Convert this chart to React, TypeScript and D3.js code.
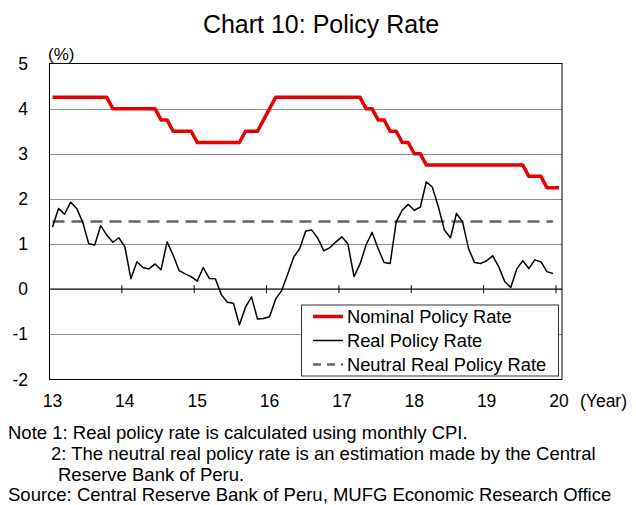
import React from 'react';
import * as d3 from 'd3';

// monthly, Jan 2013 .. Jan 2020 (nominal) / Dec 2019 (real)
const nominalRate: number[] = [
  4.25, 4.25, 4.25, 4.25, 4.25, 4.25, 4.25, 4.25, 4.25, 4.25, 4.0, 4.0,
  4.0, 4.0, 4.0, 4.0, 4.0, 4.0, 3.75, 3.75, 3.5, 3.5, 3.5, 3.5,
  3.25, 3.25, 3.25, 3.25, 3.25, 3.25, 3.25, 3.25, 3.5, 3.5, 3.5, 3.75,
  4.0, 4.25, 4.25, 4.25, 4.25, 4.25, 4.25, 4.25, 4.25, 4.25, 4.25, 4.25,
  4.25, 4.25, 4.25, 4.25, 4.0, 4.0, 3.75, 3.75, 3.5, 3.5, 3.25, 3.25,
  3.0, 3.0, 2.75, 2.75, 2.75, 2.75, 2.75, 2.75, 2.75, 2.75, 2.75, 2.75,
  2.75, 2.75, 2.75, 2.75, 2.75, 2.75, 2.75, 2.5, 2.5, 2.5, 2.25, 2.25,
  2.25,
];

const realRate: number[] = [
  1.38, 1.79, 1.66, 1.93, 1.79, 1.49, 1.01, 0.98, 1.41, 1.2, 1.04, 1.14,
  0.94, 0.23, 0.61, 0.48, 0.45, 0.56, 0.43, 1.05, 0.76, 0.41, 0.34, 0.28,
  0.18, 0.48, 0.24, 0.23, -0.12, -0.29, -0.31, -0.79, -0.4, -0.17, -0.66, -0.65,
  -0.61, -0.22, -0.03, 0.33, 0.71, 0.9, 1.29, 1.31, 1.13, 0.85, 0.92, 1.05,
  1.16, 1.0, 0.28, 0.56, 0.98, 1.26, 0.9, 0.59, 0.57, 1.49, 1.75, 1.88,
  1.75, 1.82, 2.38, 2.26, 1.82, 1.31, 1.14, 1.68, 1.49, 0.9, 0.59, 0.57,
  0.63, 0.74, 0.5, 0.17, 0.04, 0.45, 0.63, 0.46, 0.65, 0.61, 0.39, 0.35,
];

const neutralRate = 1.5;

const yearLabels = ['13', '14', '15', '16', '17', '18', '19', '20'];
const yTicks = [5, 4, 3, 2, 1, 0, -1, -2];

const legendItems = [
  { label: 'Nominal Policy Rate', color: '#e60000', width: 3.5, dash: '' },
  { label: 'Real Policy Rate', color: '#000', width: 1.5, dash: '' },
  { label: 'Neutral Real Policy Rate', color: '#666', width: 2.5, dash: '8 6' },
];

const notes = [
  { text: 'Note 1: Real policy rate is calculated using monthly CPI.', x: 8, y: 439 },
  { text: '2: The neutral real policy rate is an estimation made by the Central', x: 51, y: 460 },
  { text: 'Reserve Bank of Peru.', x: 58, y: 481 },
  { text: 'Source: Central Reserve Bank of Peru, MUFG Economic Research Office', x: 8, y: 501 },
];

const font = '"Liberation Sans", Arial, sans-serif';

const App: React.FC = () => {
  const width = 636;
  const height = 505;
  const left = 49.5, right = 562, top = 63.5, bottom = 379.5;

  const x = d3.scaleLinear().domain([0, 85]).range([left, right]);
  const y = d3.scaleLinear().domain([-2, 5]).range([bottom, top]);
  const px = (i: number) => x(i + 0.5);

  const line = d3.line<number>((d, i) => px(i), (d) => y(d));

  return (
    <svg width={width} height={height} style={{ position: 'absolute', left: 0, top: 0 }} fontFamily={font}>
      <rect width={width} height={height} fill="#fff" />
      <text x={321} y={33} fontSize={25} textAnchor="middle">Chart 10: Policy Rate</text>
      <text x={48} y={60} fontSize={17}>(%)</text>

      {/* grid */}
      {yTicks.filter((t) => t !== 0 && t !== 5 && t !== -2).map((t) => (
        <line key={t} x1={left} x2={right} y1={Math.round(y(t)) + 0.5} y2={Math.round(y(t)) + 0.5} stroke="#222" strokeWidth={1} strokeDasharray="1 1" />
      ))}
      <rect x={left} y={top} width={right - left} height={bottom - top} fill="none" stroke="#000" strokeWidth={1} />

      {/* zero axis with year ticks */}
      <line x1={left} x2={right} y1={y(0)} y2={y(0)} stroke="#000" strokeWidth={1.3} />
      {yearLabels.map((lab, k) => (
        <g key={lab}>
          {k > 0 && <line x1={x(k * 12)} x2={x(k * 12)} y1={y(0) - 4} y2={y(0) + 4} stroke="#000" strokeWidth={1} />}
          <text x={x(k * 12) + 3} y={407} fontSize={17.5} textAnchor="middle">{lab}</text>
        </g>
      ))}
      <text x={580} y={407} fontSize={17.5}>(Year)</text>

      {yTicks.map((t) => (
        <text key={t} x={28} y={y(t)} fontSize={17.5} textAnchor="end" dominantBaseline="central">{t}</text>
      ))}

      {/* series */}
      <line x1={px(0)} x2={px(83)} y1={y(neutralRate)} y2={y(neutralRate)} stroke="#666" strokeWidth={2.5} strokeDasharray="12 7" />
      <path d={line(realRate) ?? ''} fill="none" stroke="#000" strokeWidth={1.5} strokeLinejoin="round" />
      <path d={line(nominalRate) ?? ''} fill="none" stroke="#e60000" strokeWidth={3.5} strokeLinejoin="round" />

      {/* legend */}
      <rect x={301.5} y={305} width={257} height={71} fill="#fff" stroke="#333" strokeWidth={1} />
      {legendItems.map((it, i) => {
        const ly = 316.5 + i * 24;
        return (
          <g key={it.label}>
            <line x1={313} x2={343} y1={ly} y2={ly} stroke={it.color} strokeWidth={it.width} strokeDasharray={it.dash} />
            <text x={347} y={ly} fontSize={18.3} dominantBaseline="central">{it.label}</text>
          </g>
        );
      })}

      {notes.map((n) => (
        <text key={n.text} x={n.x} y={n.y} fontSize={18.5}>{n.text}</text>
      ))}
    </svg>
  );
};

export default App;
